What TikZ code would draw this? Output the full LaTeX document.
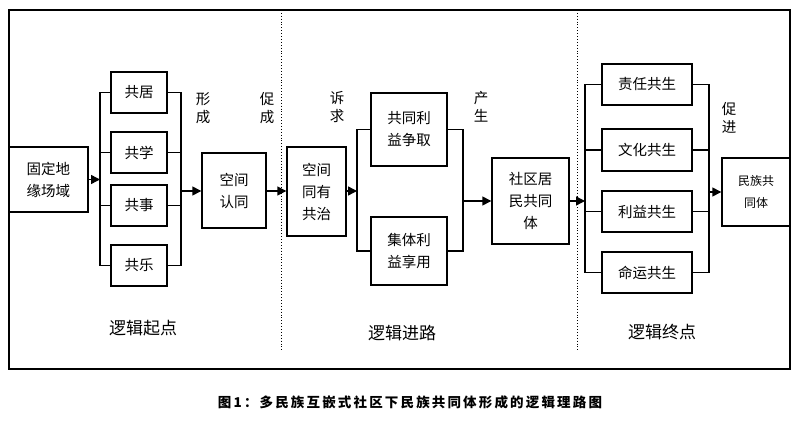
\documentclass[tikz,border=0pt]{standalone}
\usepackage{fontspec}
\setmainfont{Noto Sans CJK SC}
\newfontfamily\capfont[LetterSpace=16]{Noto Sans CJK SC}
\usetikzlibrary{arrows.meta}
\begin{document}
\begin{tikzpicture}[x=1pt,y=-1pt,
  box/.style={draw,line width=1.4pt,inner sep=0pt,align=center,font=\fontsize{14.5}{22}\selectfont},
  conn/.style={line width=1.4pt},
  arr/.style={line width=1.4pt,-{Triangle[length=9pt,width=9pt]}},
  lab/.style={inner sep=0pt,align=center,font=\fontsize{14.5}{18}\selectfont},
  big/.style={inner sep=0pt,font=\fontsize{17}{20}\selectfont},
  sep/.style={line width=0.9pt,dotted}]
\useasboundingbox (0,0) rectangle (800,425);
\fill[white] (0,0) rectangle (800,425);
% frame
\draw[line width=1.6pt] (9,10) rectangle (790,369);
\draw[sep] (281,10) -- (281,351);
\draw[sep] (577,10) -- (577,351);
% stage 1
\node[box,minimum width=79pt,minimum height=65pt] (ddy) at (48.5,179.5) {固定地\\缘场域};
\node[box,minimum width=56pt,minimum height=41pt] (gj) at (139,92.5) {共居};
\node[box,minimum width=56pt,minimum height=41pt] (gx) at (139,152.5) {共学};
\node[box,minimum width=56pt,minimum height=41pt] (gs) at (139,205.5) {共事};
\node[box,minimum width=56pt,minimum height=41pt] (gl) at (139,265.5) {共乐};
\node[box,minimum width=64pt,minimum height=75pt] (kjrt) at (234,190.5) {空间\\认同};
\coordinate (b1) at (100,179.5);
\coordinate (b2) at (181,191);
\draw[arr] (ddy.east) -- (b1);
\draw[conn] (gj.west) -| (b1) |- (gl.west);
\draw[conn] (gx.west) -- (gx.west -| b1);
\draw[conn] (gs.west) -- (gs.west -| b1);
\draw[conn] (gj.east) -| (b2) |- (gl.east);
\draw[conn] (gx.east) -- (gx.east -| b2);
\draw[conn] (gs.east) -- (gs.east -| b2);
\draw[arr] (b2) -- (b2 -| kjrt.west);
\node[lab] (l1) at (203,108) {形\\成};
\node[lab] (l2) at (267,108) {促\\成};
\node[big] (s1) at (143,328) {逻辑起点};
% stage 2
\node[box,minimum width=59pt,minimum height=89pt] (kjty) at (316.5,191.5) {空间\\同有\\共治};
\draw[arr] (kjrt.east |- 0,191) -- (kjty.west |- 0,191);
\node[box,minimum width=76pt,minimum height=73pt] (gtly) at (409,129.5) {共同利\\益争取};
\node[box,minimum width=76pt,minimum height=68pt] (jtly) at (409,251) {集体利\\益享用};
\node[box,minimum width=77pt,minimum height=86pt] (sqjm) at (530.5,201) {社区居\\民共同\\体};
\coordinate (b3) at (357,191);
\coordinate (b4) at (463,201);
\draw[arr] (kjty.east |- b3) -- (b3);
\draw[conn] (gtly.west) -| (b3) |- (jtly.west);
\draw[conn] (gtly.east) -| (b4) |- (jtly.east);
\draw[arr] (b4) -- (sqjm.west);
\node[lab] (l3) at (337,107) {诉\\求};
\node[lab] (l4) at (481,107) {产\\生};
\node[big] (s2) at (402,333) {逻辑进路};
% stage 3
\node[box,minimum width=90pt,minimum height=41pt] (zr) at (647,84.5) {责任共生};
\node[box,minimum width=90pt,minimum height=42pt] (wh) at (647,150) {文化共生};
\node[box,minimum width=90pt,minimum height=41pt] (ly) at (647,211.5) {利益共生};
\node[box,minimum width=90pt,minimum height=41pt] (my) at (647,272.5) {命运共生};
\node[box,minimum width=68pt,minimum height=68pt,font=\fontsize{12}{22}\selectfont] (mz) at (756,192) {民族共\\同体};
\coordinate (b5) at (585,201);
\coordinate (b6) at (709,192);
\draw[arr] (sqjm.east) -- (b5);
\draw[conn] (zr.west) -| (b5) |- (my.west);
\draw[conn] (wh.west) -- (wh.west -| b5);
\draw[conn] (ly.west) -- (ly.west -| b5);
\draw[conn] (zr.east) -| (b6) |- (my.east);
\draw[conn] (wh.east) -- (wh.east -| b6);
\draw[conn] (ly.east) -- (ly.east -| b6);
\draw[arr] (b6) -- (mz.west);
\node[lab] (l5) at (729,118) {促\\进};
\node[big] (s3) at (662,332) {逻辑终点};
% caption
\node[inner sep=0pt,font=\capfont\bfseries\fontsize{13.5}{16}\selectfont] (cap) at (410,402) {图1：多民族互嵌式社区下民族共同体形成的逻辑理路图};
\end{tikzpicture}
\end{document}
